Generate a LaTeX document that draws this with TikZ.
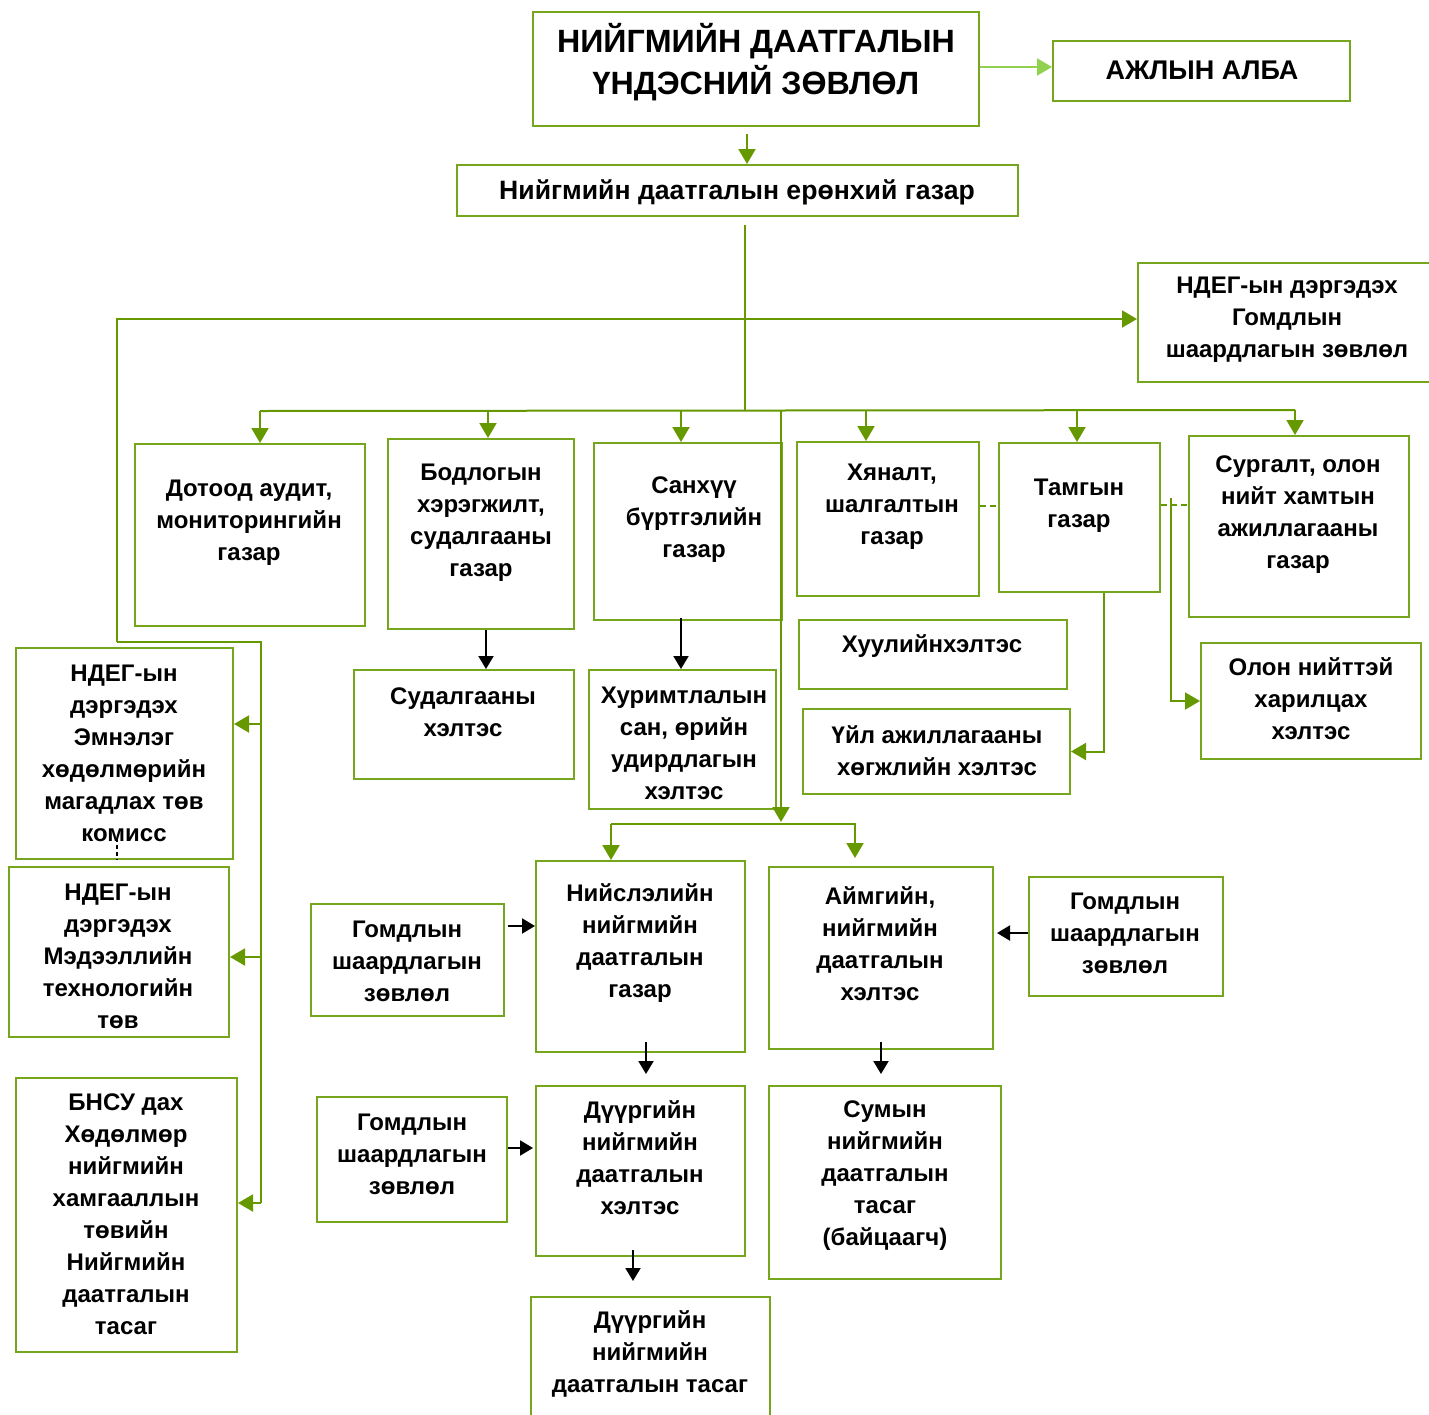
\documentclass[tikz,border=0pt]{standalone}
\usepackage{fontspec}
\setmainfont{Liberation Sans}
\usetikzlibrary{arrows.meta,fit,calc}
\definecolor{boxg}{RGB}{118,166,30}
\definecolor{lineg}{RGB}{102,153,0}
\definecolor{lightg}{RGB}{146,208,80}
\newcommand\bx[5]{\node[box, fit={(#2,#3)(#4,#5)}] (#1) {};}
\begin{document}
\begin{tikzpicture}[x=0.5pt,y=-0.5pt,
  box/.style={draw=boxg, line width=1pt, inner sep=0pt},
  txt/.style={align=center, inner sep=0pt, font=\bfseries\fontsize{12}{16}\selectfont},
  ttl/.style={align=center, inner sep=0pt, font=\bfseries\fontsize{16.1}{21}\selectfont},
  gl/.style={draw=lineg, line width=1pt},
  ga/.style={gl, -{Triangle[width=8.5pt,length=7.5pt]}},
  la/.style={draw=lightg, line width=1pt, -{Triangle[width=8.5pt,length=7.5pt]}},
  ba/.style={draw=black, line width=1pt, -{Triangle[width=7.5pt,length=6.5pt]}},
  gd/.style={gl, dash pattern=on 3pt off 2pt}]
\clip (0,0) rectangle (1429,1414);
\fill[white] (0,0) rectangle (1429,1414);

% boxes
\bx{top}{533}{12}{979}{126}
\node[ttl] (top-t) at (756,62) {НИЙГМИЙН ДААТГАЛЫН\\ҮНДЭСНИЙ ЗӨВЛӨЛ};
\bx{alba}{1053}{41}{1350}{101}
\node[txt,font=\bfseries\fontsize{13.5}{16}\selectfont] (alba-t) at (1202,70) {АЖЛЫН АЛБА};
\bx{gen}{457}{165}{1018}{216}
\node[txt,font=\bfseries\fontsize{13.3}{16}\selectfont] (gen-t) at (737,192) {Нийгмийн даатгалын ерөнхий газар};
\bx{ndeg}{1138}{263}{1440}{382}
\node[txt] (ndeg-t) at (1287,320) {НДЕГ-ын дэргэдэх\\Гомдлын\\шаардлагын зөвлөл};

\bx{dot}{135}{444}{365}{626}
\node[txt] (dot-t) at (249,523) {Дотоод аудит,\\мониторингийн\\газар};
\bx{bod}{388}{439}{574}{629}
\node[txt] (bod-t) at (481,523) {Бодлогын\\хэрэгжилт,\\судалгааны\\газар};
\bx{san}{594}{443}{782}{620}
\node[txt] (san-t) at (694,520) {Санхүү\\бүртгэлийн\\газар};
\bx{hyan}{797}{442}{979}{596}
\node[txt] (hyan-t) at (892,507) {Хяналт,\\шалгалтын\\газар};
\bx{tam}{999}{443}{1160}{592}
\node[txt] (tam-t) at (1079,506) {Тамгын\\газар};
\bx{surg}{1189}{436}{1409}{617}
\node[txt] (surg-t) at (1298,515) {Сургалт, олон\\нийт хамтын\\ажиллагааны\\газар};

\bx{sud}{354}{670}{574}{779}
\node[txt] (sud-t) at (463,712) {Судалгааны\\хэлтэс};
\bx{hur}{589}{670}{776}{809}
\node[txt] (hur-t) at (684,743) {Хуримтлалын\\сан, өрийн\\удирдлагын\\хэлтэс};
\bx{huul}{799}{620}{1067}{689}
\node[txt] (huul-t) at (932,646) {Хуулийнхэлтэс};
\bx{uil}{803}{709}{1070}{794}
\node[txt] (uil-t) at (937,751) {Үйл ажиллагааны\\хөгжлийн хэлтэс};
\bx{olon}{1201}{643}{1421}{759}
\node[txt] (olon-t) at (1311,699) {Олон нийттэй\\харилцах\\хэлтэс};

\bx{emn}{16}{648}{233}{859}
\node[txt] (emn-t) at (124,753) {НДЕГ-ын\\дэргэдэх\\Эмнэлэг\\хөдөлмөрийн\\магадлах төв\\комисс};
\bx{mt}{9}{867}{229}{1037}
\node[txt] (mt-t) at (118,956) {НДЕГ-ын\\дэргэдэх\\Мэдээллийн\\технологийн\\төв};
\bx{bn}{16}{1078}{237}{1352}
\node[txt] (bn-t) at (126,1214) {БНСУ дах\\Хөдөлмөр\\нийгмийн\\хамгааллын\\төвийн\\Нийгмийн\\даатгалын\\тасаг};

\bx{g1}{311}{904}{504}{1016}
\node[txt] (g1-t) at (407,961) {Гомдлын\\шаардлагын\\зөвлөл};
\bx{nis}{536}{861}{745}{1052}
\node[txt] (nis-t) at (640,943) {Нийслэлийн\\нийгмийн\\даатгалын\\газар};
\bx{aim}{769}{867}{993}{1049}
\node[txt] (aim-t) at (880,944) {Аймгийн,\\нийгмийн\\даатгалын\\хэлтэс};
\bx{g3}{1029}{877}{1223}{996}
\node[txt] (g3-t) at (1125,933) {Гомдлын\\шаардлагын\\зөвлөл};
\bx{g2}{317}{1097}{507}{1222}
\node[txt] (g2-t) at (412,1154) {Гомдлын\\шаардлагын\\зөвлөл};
\bx{dh}{536}{1086}{745}{1256}
\node[txt] (dh-t) at (640,1158) {Дүүргийн\\нийгмийн\\даатгалын\\хэлтэс};
\bx{sum}{769}{1086}{1001}{1279}
\node[txt] (sum-t) at (885,1176) {Сумын\\нийгмийн\\даатгалын\\тасаг\\(байцаагч)};
\bx{dt}{531}{1297}{770}{1440}
\node[txt] (dt-t) at (650,1354) {Дүүргийн\\нийгмийн\\даатгалын тасаг};

% connectors
\draw[ga] (top.south -| 747,0) ++(0,7) -- (gen.north -| 747,0);
\draw[la] (top.east |- 0,67) -- (alba.west |- 0,67);
\draw[gl] ($(gen.south -| 745,0)+(0,8)$) -- (745,411);
\draw[ga] (117,642) |- (ndeg.west |- 0,319);
\draw[gl] (117,642) -- (261,642) -- (261,1203);
\draw[ga] (261,724) -- (emn.east |- 0,724);
\draw[ga] (261,957) -- (mt.east |- 0,957);
\draw[ga] (261,1203) -- (bn.east |- 0,1203);

\draw[gl] (260,411) -- (1295,410);
\draw[ga] (260,411) -- (dot.north -| 260,0);
\draw[ga] (488,411) -- (bod.north -| 488,0);
\draw[ga] (681,411) -- (san.north -| 681,0);
\draw[ga] (866,410) -- (hyan.north -| 866,0);
\draw[ga] (1077,410) -- (tam.north -| 1077,0);
\draw[ga] (1295,410) -- (surg.north -| 1295,0);
\draw[ga] (781,411) -- (781,822);
\draw[gl] (611,824) -- (856,824);
\draw[ga] (611,824) -- (nis.north -| 611,0);
\draw[ga] (855,824) -- ($(aim.north -| 855,0)+(0,-8)$);

\draw[gd] (hyan.east |- 0,506) -- (tam.west |- 0,506);
\draw[gd] (tam.east |- 0,505) -- (surg.west |- 0,505);
\draw[ga] (1171,498) |- (olon.west);
\draw[ga] (tam.south -| 1104,0) |- (uil.east);

\draw[ba] (bod.south -| 486,0) -- (sud.north -| 486,0);
\draw[ba] ($(san.south -| 681,0)+(0,-3)$) -- (hur.north -| 681,0);
\draw[ba] ($(g1.east |- 0,926)+(3,0)$) -- (nis.west |- 0,926);
\draw[ba] (g3.west |- 0,933) -- ($(aim.east |- 0,933)+(3,0)$);
\draw[ba] (g2.east |- 0,1148) -- ($(dh.west |- 0,1148)+(-2,0)$);
\draw[ba] ($(nis.south -| 646,0)+(0,-11)$) -- ($(dh.north -| 646,0)+(0,-11)$);
\draw[ba] ($(aim.south -| 881,0)+(0,-8)$) -- ($(sum.north -| 881,0)+(0,-11)$);
\draw[ba] ($(dh.south -| 633,0)+(0,-7)$) -- ($(dt.north -| 633,0)+(0,-15)$);
\draw[black, line width=0.6pt, dash pattern=on 2pt off 1.5pt] (117,838) -- ($(mt.north -| 117,0)+(0,-6)$);
\end{tikzpicture}
\end{document}
